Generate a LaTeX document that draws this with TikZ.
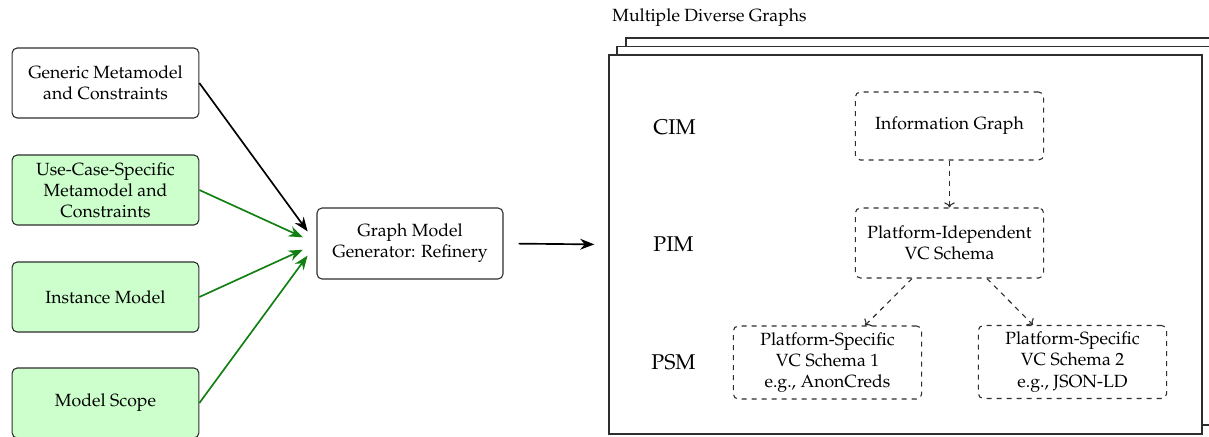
\documentclass[tikz,border=0pt]{standalone}
\usepackage[T1]{fontenc}
\usepackage{mathpazo}
\usetikzlibrary{arrows.meta,calc}

\definecolor{boxline}{HTML}{2E2E2E}
\definecolor{inputfill}{HTML}{CCFFCC}
\definecolor{inputarrow}{HTML}{118011}

\tikzset{
  inbox/.style={draw=boxline, line width=0.65pt, rounded corners=3pt,
    minimum width=112pt, minimum height=42pt, align=center, inner sep=2pt},
  greenbox/.style={inbox, fill=inputfill},
  genbox/.style={inbox, minimum width=111.6pt, minimum height=42.6pt},
  sheet/.style={draw=boxline, line width=0.8pt, fill=white},
  dbox/.style={draw=boxline, line width=0.65pt, dashed, rounded corners=3pt,
    minimum width=113pt, align=center, inner sep=2pt},
  levellabel/.style={font=\fontsize{12.8}{15}\selectfont},
  feed/.style={-{Stealth[length=8.5pt,width=6.5pt]}, line width=1pt, shorten >=9pt},
  greenfeed/.style={feed, draw=inputarrow, color=inputarrow},
  derive/.style={->, dashed, draw=boxline, line width=0.65pt}
}

\begin{document}
\begin{tikzpicture}[x=0.6pt, y=-0.6pt, font=\fontsize{10.6}{12.7}\selectfont]
\useasboundingbox (0,0) rectangle (1209,436);

% input models on the left
\node[inbox]     (generic)  at (105.5,83)  {Generic Metamodel\\and Constraints};
\node[greenbox]  (usecase)  at (105.5,190) {Use-Case-Specific\\Metamodel and\\Constraints};
\node[greenbox]  (instance) at (105.5,297) {Instance Model};
\node[greenbox]  (scope)    at (105.5,403) {Model Scope};

% generator
\node[genbox] (gen) at (410,243.5) {Graph Model\\Generator: Refinery};

\draw[feed] (generic.east) -- (gen.west);
\draw[greenfeed] (usecase.east) -- (gen.west);
\draw[greenfeed] (instance.east) -- (gen.west);
\draw[greenfeed] (scope.east) -- (gen.west);

% stack of generated graphs
\draw[sheet] (626,38) rectangle (1220,416);
\draw[sheet] (617,46.5) rectangle (1211,425);
\node[sheet, minimum width=355.8pt, minimum height=227.4pt, inner sep=0pt]
  (graphs) at (905.5,244.5) {};
\node[anchor=west, inner sep=0pt] (title) at (612,18) {Multiple Diverse Graphs};

\draw[feed, shorten <=9pt, shorten >=8.4pt] (gen.east) -- (graphs.west);

% abstraction levels
\node[levellabel] (cim) at (674.5,127) {CIM};
\node[levellabel] (pim) at (673.5,244) {PIM};
\node[levellabel] (psm) at (673.5,362) {PSM};

\node[dbox, minimum height=40.8pt] (info) at (949.5,126) {Information Graph};
\node[dbox, minimum height=42pt] (indep) at (949.5,243) {Platform-Idependent\\VC Schema};
\node[dbox, minimum height=43.8pt] (spec1) at (827.5,362.5) {Platform-Specific\\VC Schema 1\\e.g., AnonCreds};
\node[dbox, minimum height=43.8pt] (spec2) at (1072.5,362) {Platform-Specific\\VC Schema 2\\e.g., JSON-LD};

\draw[derive] (info.south) -- (indep.north);
\draw[derive] ($(indep.south)+(-37.5,0)$) -- ($(spec1.north)+(37.5,0)$);
\draw[derive] ($(indep.south)+(37.5,0)$) -- ($(spec2.north)+(-39.5,0)$);
\end{tikzpicture}
\end{document}
